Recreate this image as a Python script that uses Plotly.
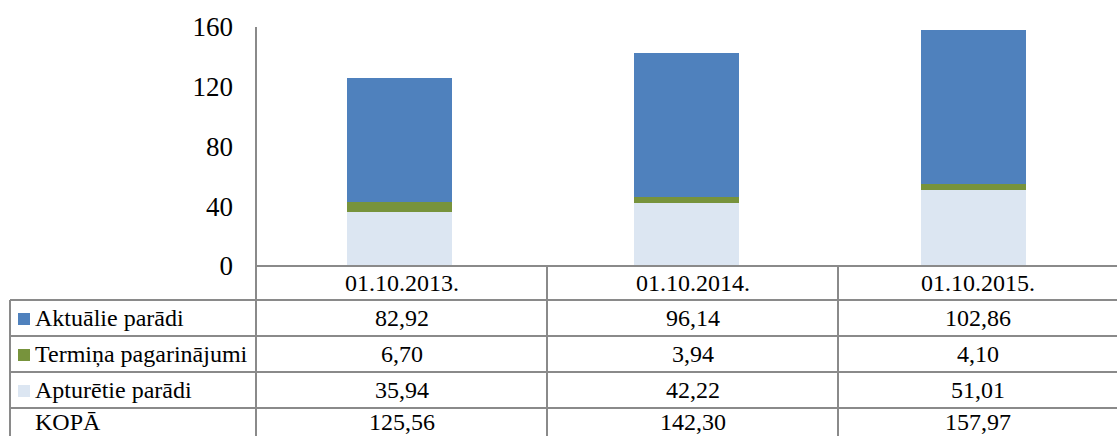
import plotly.graph_objects as go

W, H = 1117, 436

categories = ["01.10.2013.", "01.10.2014.", "01.10.2015."]
aktualie = [82.92, 96.14, 102.86]
termina = [6.70, 3.94, 4.10]
apturetie = [35.94, 42.22, 51.01]
totals = [125.56, 142.30, 157.97]
y_ticks = [0, 40, 80, 120, 160]

series_names = ["Aktuālie parādi", "Termiņa pagarinājumi", "Apturētie parādi"]
series_colors = ["#4F81BD", "#77933C", "#DCE6F2"]

FONT = "'Liberation Serif', 'Times New Roman', 'DejaVu Serif', serif"
LINE = "#8a8a8a"

def px_x(x):
    return x / W

def px_y(y):
    return (H - y) / H

def fmt(v):
    return f"{v:.2f}".replace(".", ",")

fig = go.Figure()
# stacked from bottom: Apturētie, Termiņa, Aktuālie
for name, vals, col in [
    (series_names[2], apturetie, series_colors[2]),
    (series_names[1], termina, series_colors[1]),
    (series_names[0], aktualie, series_colors[0]),
]:
    fig.add_trace(go.Bar(x=categories, y=vals, name=name, marker=dict(color=col, line=dict(width=0)),
                         width=0.367, showlegend=False))

x0, x1, x2, x3, x4 = 10, 256, 547, 838, 1117
y_axis0 = 266
row_lines = [300, 336, 372, 408]

fig.update_layout(
    template="none",
    width=W, height=H,
    margin=dict(l=0, r=0, t=0, b=0, pad=0),
    paper_bgcolor="white", plot_bgcolor="white",
    barmode="stack",
    xaxis=dict(domain=[px_x(x1), 1], range=[-0.5, 2.5], showticklabels=False, showgrid=False,
               zeroline=False, showline=False, ticks="", automargin=False),
    yaxis=dict(domain=[px_y(y_axis0), px_y(27)], range=[0, 160], tickvals=y_ticks,
               showgrid=False, zeroline=False, showline=False, ticks="", automargin=False,
               tickfont=dict(family=FONT, size=27, color="black"), ticklabelstandoff=22),
)

shapes = []
def hline(y, xa, xb):
    shapes.append(dict(type="line", xref="paper", yref="paper", x0=px_x(xa), x1=px_x(xb),
                       y0=px_y(y), y1=px_y(y), line=dict(color=LINE, width=2)))
def vline(x, ya, yb):
    shapes.append(dict(type="line", xref="paper", yref="paper", x0=px_x(x), x1=px_x(x),
                       y0=px_y(ya), y1=px_y(yb), line=dict(color=LINE, width=2)))

hline(y_axis0, x1, x4)
for y in row_lines:
    hline(y, x0, x4)
vline(x1, 27, H)
vline(x0, row_lines[0], H)
vline(x2, y_axis0, H)
vline(x3, y_axis0, H)

anns = []
col_centers = [(x1 + x2) / 2, (x2 + x3) / 2, (x3 + x4) / 2]
def text(x, y, s, anchor="center"):
    anns.append(dict(xref="paper", yref="paper", x=px_x(x), y=px_y(y), text=s, showarrow=False,
                     xanchor=anchor, yanchor="middle", font=dict(family=FONT, size=24, color="black")))

for cx, c in zip(col_centers, categories):
    text(cx, 283, c)

row_centers = [318, 354, 390, 422]
row_values = [aktualie, termina, apturetie, totals]
row_labels = series_names + ["KOPĀ"]
for i, (rc, vals, lab) in enumerate(zip(row_centers, row_values, row_labels)):
    text(33, rc, lab, anchor="left")
    for cx, v in zip(col_centers, vals):
        text(cx, rc, fmt(v))
    if i < 3:
        shapes.append(dict(type="rect", xref="paper", yref="paper",
                           x0=px_x(18), x1=px_x(30), y0=px_y(rc - 5), y1=px_y(rc + 7),
                           fillcolor=series_colors[i], line=dict(width=0)))

fig.update_layout(shapes=shapes, annotations=anns)
fig.write_html("out.html", config={"displayModeBar": False},
               post_script="document.body.style.margin='0';document.body.style.overflow='hidden';")
